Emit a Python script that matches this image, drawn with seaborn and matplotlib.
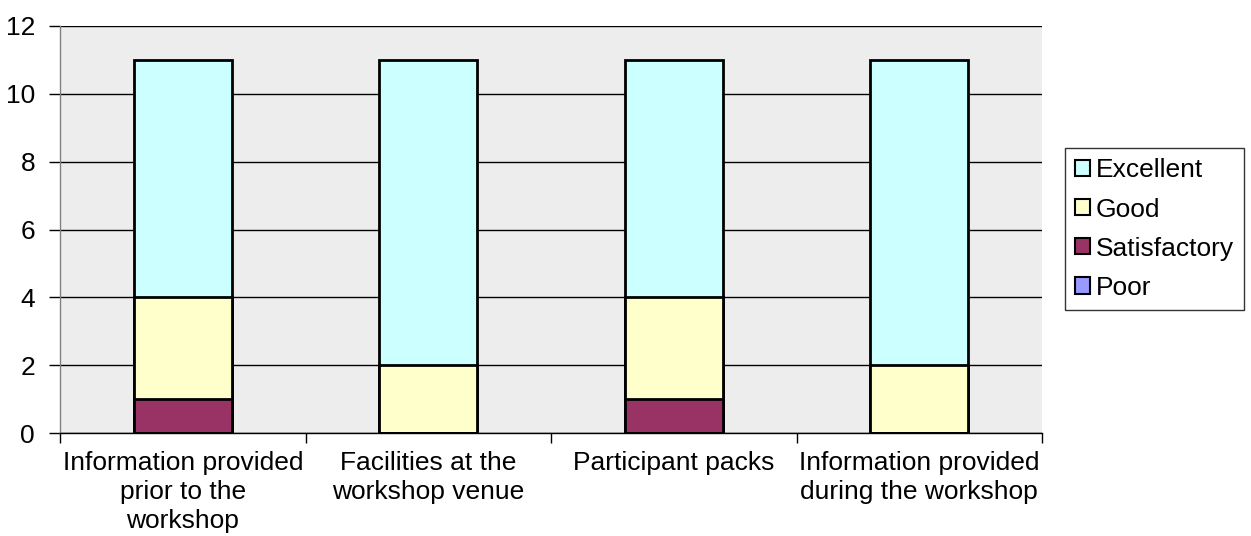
import pandas as pd
import seaborn as sns
import matplotlib.pyplot as plt
from matplotlib.patches import Patch

categories = ['Information provided\nprior to the\nworkshop',
              'Facilities at the\nworkshop venue',
              'Participant packs',
              'Information provided\nduring the workshop']
poor = [0, 0, 0, 0]
satisfactory = [1, 0, 1, 0]
good = [3, 2, 3, 2]
excellent = [7, 9, 7, 9]

colors = {'Excellent': '#CCFFFF', 'Good': '#FFFFCC',
          'Satisfactory': '#993366', 'Poor': '#9999FF'}

df = pd.DataFrame({'cat': categories, 'Poor': poor, 'Satisfactory': satisfactory,
                   'Good': good, 'Excellent': excellent})
# cumulative tops, drawn tallest first so the shorter ones sit on top
df['c_poor'] = df['Poor']
df['c_sat'] = df['c_poor'] + df['Satisfactory']
df['c_good'] = df['c_sat'] + df['Good']
df['c_exc'] = df['c_good'] + df['Excellent']

sns.set_style('white')
plt.rcParams['font.family'] = ['Liberation Sans', 'DejaVu Sans']
plt.rcParams['text.color'] = 'black'
plt.rcParams['xtick.color'] = 'black'
plt.rcParams['ytick.color'] = 'black'
fs = 19

fig = plt.figure(figsize=(12.51, 5.36), dpi=100)
ax = fig.add_axes([0.048, 0.192, 0.785, 0.7595])
ax.set_facecolor('#EDEDED')
ax.set_axisbelow(True)
ax.grid(axis='y', color='black', linewidth=1)

for col, name in [('c_exc', 'Excellent'), ('c_good', 'Good'),
                  ('c_sat', 'Satisfactory'), ('c_poor', 'Poor')]:
    sns.barplot(data=df, x='cat', y=col, color=colors[name], saturation=1,
                width=0.4, edgecolor='black', linewidth=2, ax=ax)

ax.set_ylim(0, 12)
ax.set_xlim(-0.5, 3.5)
ax.set_yticks(range(0, 13, 2))
ax.set_xlabel('')
ax.set_ylabel('')
ax.tick_params(axis='y', which='major', length=8, width=1, color='black',
               labelcolor='black', labelsize=fs, pad=10, left=True)
ax.tick_params(axis='x', which='major', length=0, labelcolor='black',
               labelsize=fs, pad=13)
ax.set_xticks([-0.5, 0.5, 1.5, 2.5, 3.5], minor=True)
ax.tick_params(axis='x', which='minor', length=7, width=1, color='black', bottom=True)
for lbl in ax.get_xticklabels():
    lbl.set_linespacing(1.25)

for s in ['top', 'right']:
    ax.spines[s].set_visible(False)
ax.spines['left'].set_color('#808080')
ax.spines['left'].set_linewidth(1)
ax.spines['bottom'].set_color('black')
ax.spines['bottom'].set_linewidth(1)

handles = [Patch(facecolor=colors[n], edgecolor='black', linewidth=1.5, label=n)
           for n in ['Excellent', 'Good', 'Satisfactory', 'Poor']]
leg = fig.legend(handles=handles, loc='upper left', bbox_to_anchor=(0.851, 0.724),
                 fontsize=fs, frameon=True, fancybox=False, edgecolor='black',
                 handlelength=0.58, handleheight=0.58, handletextpad=0.2,
                 labelspacing=0.57, borderpad=0.4, borderaxespad=0)
leg.get_frame().set_linewidth(1)
for t in leg.get_texts():
    t.set_color('black')

fig.savefig('out.png', dpi=100)
